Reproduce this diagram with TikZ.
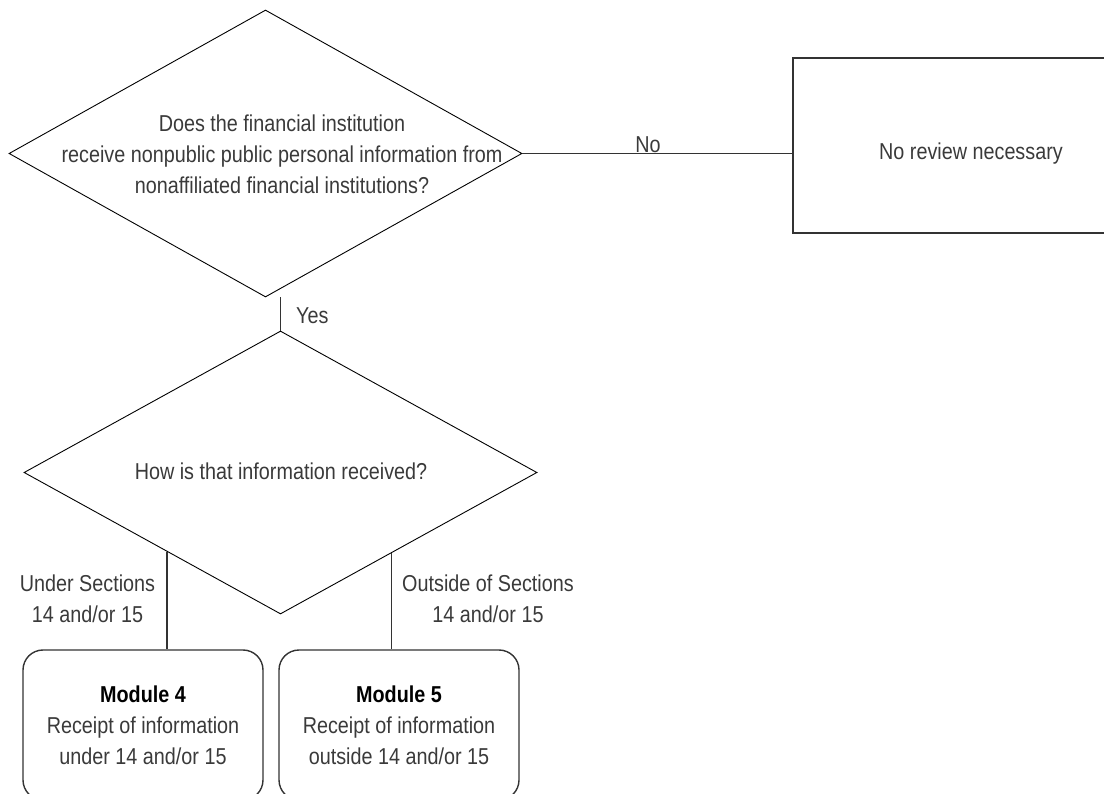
\documentclass[tikz,border=0pt]{standalone}
\usepackage{fontspec}
\setmainfont{Liberation Sans}[FakeStretch=0.86]
\usetikzlibrary{shapes.geometric,calc}
\definecolor{txt}{HTML}{3A3A3A}
\definecolor{ln}{HTML}{333333}
\begin{document}
\begin{tikzpicture}[x=1pt,y=-1pt,
  every node/.style={font=\fontsize{23}{31}\selectfont, text=txt},
  dia/.style={draw=black, line width=0.9pt, diamond, inner sep=0pt},
  sqbox/.style={draw=ln, line width=1.4pt, inner sep=0pt},
  rbox/.style={draw=ln, line width=1.4pt, rounded corners=20pt, minimum width=240pt, minimum height=150pt, align=center, inner sep=0pt},
  conn/.style={draw=ln, line width=1.2pt},
  lbl/.style={align=center, inner sep=0pt}]
\useasboundingbox (0,0) rectangle (1104,794);
\clip (0,0) rectangle (1104,794);
% first decision
\node[dia, minimum width=513pt, minimum height=287pt] (d1) at (265.5,153.5) {};
\node[lbl] (q1) at (282,154) {Does the financial institution\\receive nonpublic public personal information from\\nonaffiliated financial institutions?};
% no review box
\node[sqbox, minimum width=356pt, minimum height=175pt] (nr) at (971,145.5) {};
\node[lbl] (nrt) at (971,154) {No review necessary};
\draw[conn] (d1.east) -- (d1.east -| nr.west);
\node[lbl, anchor=base] (no) at (648,153) {No};
% second decision
\node[dia, minimum width=513pt, minimum height=283pt] (d2) at (280.5,472.5) {};
\node[lbl] (q2) at (281,471) {How is that information received?};
\draw[conn] (d2.north) -- (d2.north |- d1.south);
\node[lbl, anchor=base west] (yes) at (296,324) {Yes};
% modules
\node[rbox] (m4) at (143,725) {{\color{black}\bfseries Module 4}\\Receipt of information\\under 14 and/or 15};
\node[rbox] (m5) at (399,725) {{\color{black}\bfseries Module 5}\\Receipt of information\\outside 14 and/or 15};
\coordinate (e4) at ($(d2.west)!0.5586!(d2.south)$);
\coordinate (e5) at ($(d2.east)!0.568!(d2.south)$);
\draw[conn] (e4) -- (e4 |- m4.north);
\draw[conn] (e5) -- (e5 |- m5.north);
\node[lbl] (l4) at (87.5,598.5) {Under Sections\\14 and/or 15};
\node[lbl] (l5) at (488,598.5) {Outside of Sections\\14 and/or 15};
\end{tikzpicture}
\end{document}
